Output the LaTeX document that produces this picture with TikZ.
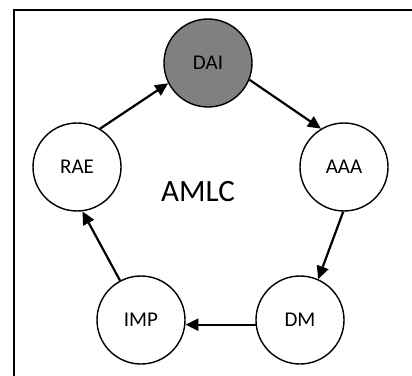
\documentclass[tikz,border=0pt]{standalone}
\usepackage{fontspec}
\setmainfont{Carlito}
\usetikzlibrary{arrows.meta}
\begin{document}
\begin{tikzpicture}[x=1pt,y=1pt,
  stage/.style={circle, draw=black, line width=1.4pt, minimum size=88pt,
    inner sep=0pt, fill=white, font=\fontsize{21}{25}\selectfont},
  flow/.style={line width=2.2pt, -{Triangle[length=13pt,width=12pt]}}]
\useasboundingbox (0,0) rectangle (412,375);
\fill[white] (0,0) rectangle (412,375);
% outer frame, running past the right and bottom edges
\draw[line width=2pt] (14,-20) -- (14,365) -- (430,365);

\node[stage, fill={rgb,255:red,128;green,128;blue,128}] (dai) at (208,312) {DAI};
\node[stage] (rae) at (77,208) {RAE};
\node[stage] (aaa) at (344,208) {AAA};
\node[stage] (imp) at (141,55) {IMP};
\node[stage] (dm)  at (300,55) {DM};

\node[anchor=base, font=\fontsize{31}{36}\selectfont, inner sep=0pt] (cycle) at (198,173) {AMLC};

\draw[flow] (rae.59)  -- (dai.207);
\draw[flow] (dai.338) -- (aaa.121);
\draw[flow] (aaa.269) -- (dm.66);
\draw[flow] (dm.186)  -- (imp.354);
\draw[flow] (imp.118) -- (rae.277);
\end{tikzpicture}
\end{document}
